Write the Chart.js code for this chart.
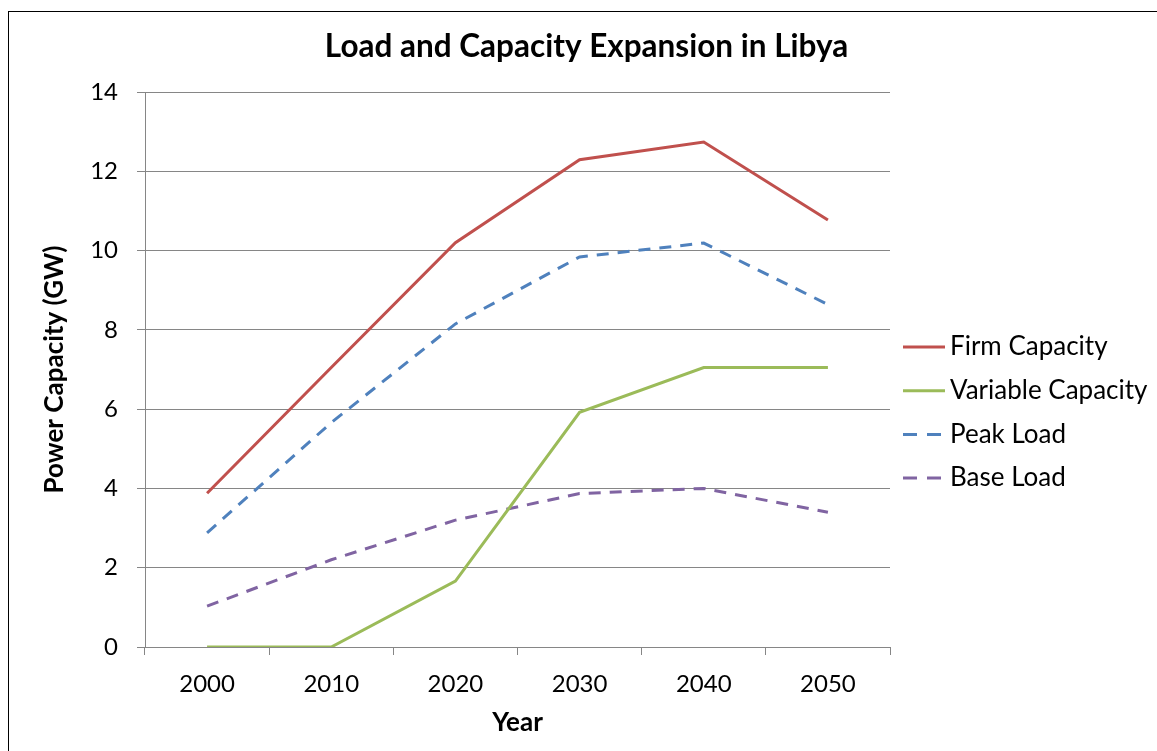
<!DOCTYPE html>
<html><head><meta charset="utf-8">
<script src="https://cdn.jsdelivr.net/npm/chart.js@4/dist/chart.umd.min.js"></script>
<style>
html,body{margin:0;padding:0;background:#fff;overflow:hidden;}
#wrap{position:relative;width:1157px;height:751px;}
#frame{position:absolute;left:8px;top:11px;width:1200px;height:800px;border:1px solid #000;box-sizing:border-box;pointer-events:none;}
canvas{position:absolute;left:0;top:0;}
</style></head><body>
<div id="wrap"><canvas id="c" width="1157" height="751"></canvas><div id="frame"></div></div>
<script>
const years = ['2000','2010','2020','2030','2040','2050'];
const firmCapacity = [3.88, 7.05, 10.2, 12.29, 12.74, 10.77];
const variableCapacity = [0, 0, 1.66, 5.92, 7.05, 7.05];
const peakLoad = [2.88, 5.66, 8.15, 9.84, 10.19, 8.64];
const baseLoad = [1.03, 2.2, 3.2, 3.87, 4.0, 3.4];
const yTicks = [0, 2, 4, 6, 8, 10, 12, 14];
const seriesNames = ['Firm Capacity', 'Variable Capacity', 'Peak Load', 'Base Load'];

const FONT = 'Lato, "Open Sans", sans-serif';
const GRID = '#868686';

const legendPlugin = {
  id: 'sideLegend',
  afterDraw(chart) {
    const ctx = chart.ctx;
    ctx.save();
    chart.data.datasets.forEach((ds, i) => {
      const y = 347 + i * 43.7;
      ctx.beginPath();
      ctx.strokeStyle = ds.borderColor;
      ctx.lineWidth = 3;
      ctx.setLineDash(ds.borderDash && ds.borderDash.length ? [14, 10] : []);
      ctx.moveTo(903, y);
      ctx.lineTo(945, y);
      ctx.stroke();
      ctx.setLineDash([]);
      ctx.fillStyle = '#000';
      ctx.font = '26px ' + FONT;
      ctx.textBaseline = 'middle';
      ctx.textAlign = 'left';
      ctx.fillText(ds.label, 950, y);
    });
    ctx.restore();
  }
};

new Chart(document.getElementById('c'), {
  type: 'line',
  data: {
    labels: years,
    datasets: [
      { label: seriesNames[0], data: firmCapacity, borderColor: '#C0504D', borderWidth: 3, pointRadius: 0, tension: 0 },
      { label: seriesNames[1], data: variableCapacity, borderColor: '#9BBB59', borderWidth: 3, pointRadius: 0, tension: 0 },
      { label: seriesNames[2], data: peakLoad, borderColor: '#4F81BD', borderWidth: 3, pointRadius: 0, tension: 0, borderDash: [12, 9] },
      { label: seriesNames[3], data: baseLoad, borderColor: '#8064A2', borderWidth: 3, pointRadius: 0, tension: 0, borderDash: [12, 9] }
    ]
  },
  options: {
    responsive: false,
    animation: false,
    devicePixelRatio: 1,
    layout: { padding: { left: 16, right: 0, top: 0, bottom: 0 } },
    plugins: {
      legend: { display: false },
      tooltip: { enabled: false },
      title: {
        display: true,
        text: 'Load and Capacity Expansion in Libya',
        color: '#000',
        font: { family: FONT, size: 31.5, weight: 'bold' },
        padding: { top: 28, bottom: 26.2 }
      }
    },
    scales: {
      x: {
        offset: true,
        grid: { drawOnChartArea: false, drawTicks: true, tickLength: 8, color: GRID, offset: true },
        border: { color: GRID, width: 1 },
        ticks: { color: '#000', font: { family: FONT, size: 24 }, padding: 15 },
        title: { display: true, text: 'Year', color: '#000', font: { family: FONT, size: 26, weight: 'bold' }, padding: { top: 0, bottom: 13 } },
        afterFit(s) { s.height = 104; }
      },
      y: {
        min: 0, max: 14,
        afterBuildTicks(s) { s.ticks = yTicks.map(v => ({ value: v })); },
        grid: { color: GRID, tickLength: 8 },
        border: { color: GRID, width: 1 },
        ticks: { color: '#000', font: { family: FONT, size: 24 }, padding: 19 },
        title: { display: true, text: 'Power Capacity (GW)', color: '#000', font: { family: FONT, size: 26, weight: 'bold' }, padding: { top: 23, bottom: 0 } },
        afterFit(s) { s.width = 129; }
      },
      yRight: {
        position: 'right',
        display: true,
        grid: { display: false, drawOnChartArea: false },
        border: { display: false },
        ticks: { display: false },
        afterFit(s) { s.width = 267; }
      }
    }
  },
  plugins: [legendPlugin]
});
</script>
</body></html>
